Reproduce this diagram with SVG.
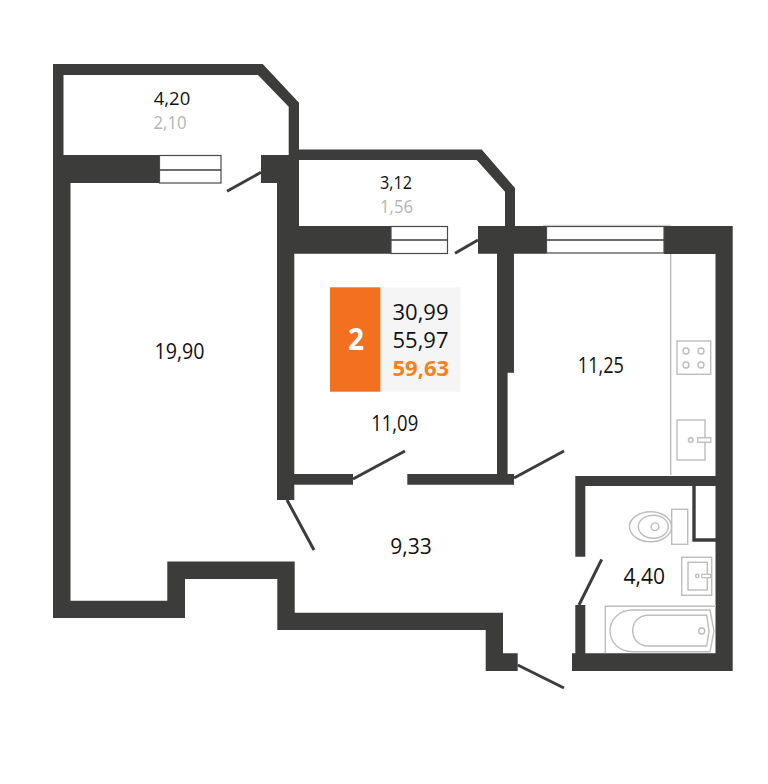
<svg xmlns="http://www.w3.org/2000/svg" width="768" height="784" viewBox="0 0 768 784">
<style>
.w{fill:#3c3c3b}
.d{fill:none;stroke:#3c3c3b;stroke-width:3}
.f{fill:none;stroke:#bdbdbc;stroke-width:1.4}
.g{fill:#fff;stroke:#4a4a49;stroke-width:1.2}
.m{fill:none;stroke:#3c3c3b;stroke-width:1.4}
text{font-family:"Open Sans","Noto Sans",sans-serif;text-anchor:middle;fill:#111}
.l{font-size:21px}
.s{font-size:18.5px}
.a{fill:#b5b5b4}
.i{font-size:22px;text-anchor:start}
</style>
<rect width="768" height="784" fill="#fff"/>
<g id="walls">
<path class="w" d="M53 64H262.7L299 102.7V155H288.7V106.7L258 75H63.5V155H53Z"/>
<rect class="w" x="53" y="155" width="106" height="28"/>
<path class="w" d="M261 155H299V226H391V253.7H294.3V500H277V183H261Z"/>
<path class="w" d="M299 149.5H481.7L515 188V226H505V191.7L476.7 160H299Z"/>
<path class="w" d="M478 226H546.5V253.7H514V372.7H507.6V474H514V484.7H407.3V474H497V253.7H478Z"/>
<path class="w" d="M664 226H732.7V671H572V653.3H575.3V605H585.3V653.3H715.5V486H585.3V556.7H575.3V476H715.5V254H664Z"/>
<rect class="w" x="294" y="474" width="59" height="10.7"/>
<path class="w" d="M53 183H70.5V600.7H167.3V561.5H294.7V612.7H503V653.3H517.7V671H485.7V630H277.3V579H185V618H53Z"/>
<path class="w" d="M692.3 486H695.7V538.2H716V541.8H692.3Z"/>
</g>
<g id="windows">
<rect class="g" x="159.5" y="155.5" width="61.5" height="27.5"/>
<path class="m" d="M159.5 170H221"/>
<rect class="g" x="391" y="226.5" width="56.5" height="27"/>
<path class="m" d="M391 240H447.5"/>
<rect class="g" x="546.5" y="226.5" width="117.5" height="26.5"/>
<path class="m" d="M546.5 240H664"/>
<path d="M543 225.3H670.7" fill="none" stroke="#c8c8c8" stroke-width="1"/>
</g>
<g id="doors">
<path class="d" d="M261 172.3L227 191.3"/>
<path class="d" d="M478 240L455 253.3"/>
<path class="d" d="M353 479L405 451"/>
<path class="d" d="M514 478L564 451"/>
<path class="d" d="M287 500L314 550"/>
<path class="d" d="M517.7 665L564 688"/>
<path class="d" d="M601.7 559.3L579 605"/>
</g>
<g id="kitchen">
<path class="f" d="M670.7 254V475"/>
<rect class="f" x="677" y="341" width="33.7" height="33.3"/>
<circle class="f" cx="686" cy="351" r="3"/>
<circle class="f" cx="701" cy="351" r="3"/>
<circle class="f" cx="686" cy="365" r="3"/>
<circle class="f" cx="701" cy="365" r="3"/>
<rect class="f" x="677" y="420" width="28" height="40"/>
<circle class="f" cx="690.7" cy="440" r="2.3"/>
<rect x="697.7" y="437.7" width="13" height="4.6" fill="#fff" stroke="#bdbdbc" stroke-width="1.4"/>
</g>
<g id="bathroom">
<rect class="f" x="671.7" y="509.3" width="16" height="35"/>
<ellipse class="f" cx="650.5" cy="526.7" rx="21" ry="15"/>
<ellipse class="f" cx="653.3" cy="526.7" rx="15" ry="11.5"/>
<circle class="f" cx="655" cy="526.7" r="3.8"/>
<rect class="f" x="681.7" y="557.3" width="30" height="38"/>
<rect class="f" x="688" y="562.3" width="19.3" height="27.7"/>
<circle class="f" cx="697.3" cy="576" r="1.7"/>
<rect x="701.7" y="574.3" width="9" height="3.4" fill="#fff" stroke="#bdbdbc" stroke-width="1.2"/>
<path class="f" d="M605.3 653V606.3H716"/>
<path class="f" d="M710 610L714 631L710 651.7H632C620 651.7 610 643 610 631C610 619 620 610 632 610Z"/>
<path class="f" d="M706.7 615.3L709 631L706.7 646H648C639 646 632.7 639 632.7 631C632.7 622 639 615.3 648 615.3Z"/>
<circle class="f" cx="701.7" cy="631" r="3"/>
</g>
<g id="info">
<rect x="380" y="287.3" width="80.3" height="104.4" fill="#f5f5f5"/>
<rect x="330" y="287.3" width="50.3" height="104.4" fill="#f37021"/>
<text x="356" y="350" font-size="31" font-weight="700" style="fill:#fff" textLength="16" lengthAdjust="spacingAndGlyphs">2</text>
<text class="i" x="392.5" y="320">30,99</text>
<text class="i" x="392.5" y="347.7">55,97</text>
<text class="i" x="392.5" y="375.7" font-weight="700" style="fill:#f58220">59,63</text>
</g>
<g id="labels">
<text class="s" x="172" y="105">4,20</text>
<text class="s a" x="170" y="129" textLength="33" lengthAdjust="spacingAndGlyphs">2,10</text>
<text class="s" x="396" y="189.3" textLength="32" lengthAdjust="spacingAndGlyphs">3,12</text>
<text class="s a" x="396.5" y="213" textLength="33" lengthAdjust="spacingAndGlyphs">1,56</text>
<text class="l" x="179.5" y="359" textLength="50" lengthAdjust="spacingAndGlyphs">19,90</text>
<text class="l" x="394.7" y="431" textLength="47" lengthAdjust="spacingAndGlyphs">11,09</text>
<text class="l" x="600.8" y="372.7" textLength="46" lengthAdjust="spacingAndGlyphs">11,25</text>
<text class="l" x="411" y="554">9,33</text>
<text class="l" x="644.3" y="584.3">4,40</text>
</g>
</svg>
